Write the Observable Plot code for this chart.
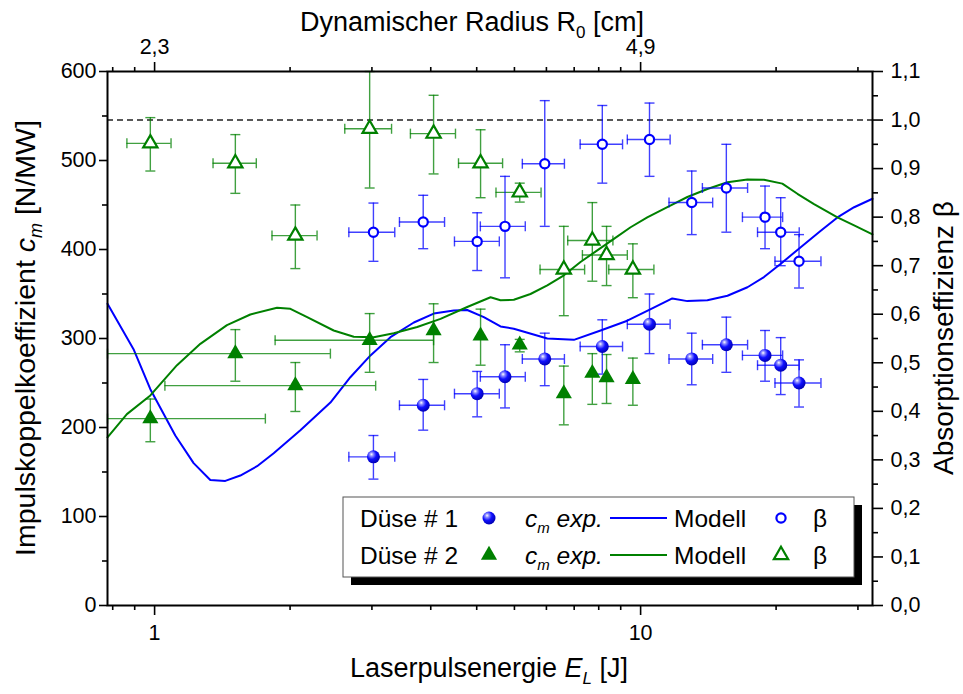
<!DOCTYPE html>
<html><head><meta charset="utf-8">
<script src="https://cdn.jsdelivr.net/npm/d3@7"></script>
<script src="https://cdn.jsdelivr.net/npm/@observablehq/plot@0.6"></script>
<style>
html,body{margin:0;padding:0;background:#fff;}
#chart{width:963px;height:694px;}
</style>
</head><body><div id="chart"></div>
<script>
// ---------- Düse # 1 (blue) ----------
const blueE    = [2.82, 3.57, 4.61, 5.26, 6.35, 8.34, 10.43, 12.74, 15.01, 18.03, 19.42, 21.18];
const blueElo  = [2.51, 3.19, 4.14, 4.68, 5.71, 7.51, 9.39, 11.44, 13.4, 16.2, 17.4, 18.9];
const blueEhi  = [3.12, 3.95, 5.12, 5.79, 6.97, 9.18, 11.5, 14.07, 16.6, 19.6, 21.2, 23.5];
const blueCm   = [167, 225, 238, 257, 277, 291, 316, 277, 293, 281, 270, 250];
const blueCmLo = [142, 197, 212, 222, 247, 260, 283, 248, 262, 252, 237, 223];
const blueCmHi = [191, 254, 263, 293, 306, 321, 350, 306, 324, 309, 301, 276];
const blueBeta   = [0.769, 0.790, 0.750, 0.781, 0.910, 0.950, 0.960, 0.830, 0.860, 0.800, 0.769, 0.709];
const blueBetaLo = [0.709, 0.735, 0.690, 0.675, 0.781, 0.870, 0.884, 0.764, 0.769, 0.735, 0.700, 0.654];
const blueBetaHi = [0.829, 0.845, 0.809, 0.884, 1.040, 1.030, 1.035, 0.895, 0.950, 0.864, 0.840, 0.764];

// ---------- Düse # 2 (green) ----------
const greenE    = [0.98, 1.466, 1.948, 2.77, 3.75, 4.685, 5.64, 6.95, 7.955, 8.51, 9.64];
const greenCm   = [210, 283, 247, 298, 309, 303, 293, 238, 261, 256, 254];
const greenCmLo = [184, 252, 218, 262, 273, 270, 285, 203, 226, 227, 225];
const greenCmHi = [232, 310, 273, 328, 339, 333, 299, 269, 283, 282, 278];
const greenCmElo = [0.8, 0.8, 1.05, 1.77, null, null, null, null, null, null, null];
const greenCmEhi = [1.69, 2.30, 2.85, 3.75, null, null, null, null, null, null, null];
const greenBeta   = [0.952, 0.911, 0.762, 0.982, 0.972, 0.911, 0.851, 0.692, 0.752, 0.722, 0.692];
const greenBetaLo = [0.895, 0.849, 0.694, 0.860, 0.889, 0.840, 0.831, 0.597, 0.668, 0.659, 0.634];
const greenBetaHi = [1.005, 0.970, 0.825, 1.100, 1.051, 0.980, 0.870, 0.781, 0.830, 0.781, 0.745];
const greenBetaElo = [0.877, 1.319, 1.744, 2.462, 3.36, 4.22, 5.04, 6.21, 7.08, 7.59, 8.6];
const greenBetaEhi = [1.081, 1.619, 2.159, 3.073, 4.16, 5.2, 6.24, 7.67, 8.77, 9.39, 10.65];

// ---------- Model curves ----------
const blueModelE  = [0.80,0.905,0.98,1.103,1.203,1.302,1.398,1.501,1.625,1.758,1.995,2.30,2.528,2.781,3.057,3.415,3.753,4.127,4.398,4.758,5.149,5.484,6.427,7.29,8.273,9.389,10.49,11.62,12.48,13.72,15.09,16.59,17.94,19.43,21.35,23.48,25.41,27.5,30.0];
const blueModelCm = [339,288,243,191,160,141,140,146,156.5,171,197,228,256.5,281,301.5,318,328,331.5,332,324,313.5,311,300,298.5,309,320,333,345,342,343,348,357.6,369,384,402.6,421,436,447.5,457];
const greenModelE  = [0.80,0.877,0.98,1.112,1.242,1.409,1.574,1.786,1.903,2.06,2.336,2.569,2.824,3.105,3.47,3.875,4.398,4.912,5.149,5.484,5.935,6.427,6.953,7.522,8.144,8.81,9.537,10.32,11.35,12.48,13.72,15.09,16.59,17.94,19.57,21.02,22.74,25.41,27.5,30.0];
const greenModelCm = [189,215,236,270,294,315,327,334.5,333.4,324,309,302,301.5,306,313,322,335.4,346.4,343,343.5,350,359.6,371,386,399,412,425,436,447.5,459,468,475.6,478.7,478.3,474,462.6,451,436,427,417];

// ---------- Axes ----------
const xDomain = [0.8, 30];
const xMajorTicks = [1, 10];
const xMinorTicks = [0.82, 0.91, 1.9, 2.8, 3.7, 4.6, 5.5, 6.4, 7.3, 8.2, 9.1, 19, 28];
const topTickLabels = ["2,3", "4,9"];
const cmDomain = [0, 600];
const cmMajorTicks = [0, 100, 200, 300, 400, 500, 600];
const cmMinorTicks = [50, 150, 250, 350, 450, 550];
const betaMax = 1.1;
const betaMajorTicks = [0, 0.1, 0.2, 0.3, 0.4, 0.5, 0.6, 0.7, 0.8, 0.9, 1.0, 1.1];
const betaMinorTicks = [0.05, 0.15, 0.25, 0.35, 0.45, 0.55, 0.65, 0.75, 0.85, 0.95, 1.05];
const betaReference = [1.0];

const BLUE = "#0000ff", GREEN = "#008000", SPHERE = "#0000fe";
const K = cmDomain[1] / betaMax; // beta -> left-axis units

const blueRows = blueE.map((E, i) => ({E, Elo: blueElo[i], Ehi: blueEhi[i],
  cm: blueCm[i], cmLo: blueCmLo[i], cmHi: blueCmHi[i],
  b: blueBeta[i] * K, bLo: blueBetaLo[i] * K, bHi: blueBetaHi[i] * K}));
const greenRows = greenE.map((E, i) => ({E, cElo: greenCmElo[i], cEhi: greenCmEhi[i],
  bElo: greenBetaElo[i], bEhi: greenBetaEhi[i],
  cm: greenCm[i], cmLo: greenCmLo[i], cmHi: greenCmHi[i],
  b: greenBeta[i] * K, bLo: greenBetaLo[i] * K, bHi: greenBetaHi[i] * K}));
const greenRowsCx = greenRows.filter(d => d.cElo != null);
const blueModel = blueModelE.map((E, i) => ({E, cm: blueModelCm[i]}));
const greenModel = greenModelE.map((E, i) => ({E, cm: greenModelCm[i]}));

const hCap = {draw(ctx, size) { const r = Math.sqrt(size / Math.PI); ctx.moveTo(-r, 0); ctx.lineTo(r, 0); }};
const vCap = {draw(ctx, size) { const r = Math.sqrt(size / Math.PI); ctx.moveTo(0, -r); ctx.lineTo(0, r); }};

function errorBars(rows, y, ylo, yhi, xlo, xhi, color) {
  const s = {stroke: color, strokeWidth: 1.4, strokeOpacity: 0.75};
  return [
    Plot.ruleX(rows, {x: "E", y1: ylo, y2: yhi, ...s}),
    Plot.dot(rows, {x: "E", y: ylo, symbol: hCap, r: 5, fill: "none", ...s}),
    Plot.dot(rows, {x: "E", y: yhi, symbol: hCap, r: 5, fill: "none", ...s}),
    Plot.ruleY(rows, {y, x1: xlo, x2: xhi, ...s}),
    Plot.dot(rows, {x: xlo, y, symbol: vCap, r: 5, fill: "none", ...s}),
    Plot.dot(rows, {x: xhi, y, symbol: vCap, r: 5, fill: "none", ...s})
  ];
}

const fmtBeta = d => (d / K).toFixed(1).replace(".", ",");
const axisStyle = {fontSize: 21.5, label: null, strokeWidth: 1.6};

const chart = Plot.plot({
  width: 963, height: 694,
  marginLeft: 107, marginRight: 91, marginTop: 71, marginBottom: 89,
  style: {fontFamily: '"Liberation Sans", Arial, sans-serif', fontSize: "21.5px", background: "white", color: "black"},
  x: {type: "log", domain: xDomain},
  y: {domain: cmDomain},
  marks: [
    Plot.ruleY(betaReference.map(b => b * K), {stroke: "#222", strokeWidth: 1.5, strokeDasharray: "6,4"}),
    Plot.line(blueModel, {x: "E", y: "cm", stroke: BLUE, strokeWidth: 2}),
    Plot.line(greenModel, {x: "E", y: "cm", stroke: GREEN, strokeWidth: 2}),
    ...errorBars(greenRowsCx, "cm", "cmLo", "cmHi", "cElo", "cEhi", GREEN).slice(3),
    ...errorBars(greenRows, "cm", "cmLo", "cmHi", "E", "E", GREEN).slice(0, 3),
    ...errorBars(greenRows, "b", "bLo", "bHi", "bElo", "bEhi", GREEN),
    ...errorBars(blueRows, "cm", "cmLo", "cmHi", "Elo", "Ehi", BLUE),
    ...errorBars(blueRows, "b", "bLo", "bHi", "Elo", "Ehi", BLUE),
    Plot.dot(greenRows, {x: "E", y: "cm", symbol: "triangle", r: 6, fill: GREEN}),
    Plot.dot(greenRows, {x: "E", y: "b", symbol: "triangle", r: 5.3, stroke: GREEN, strokeWidth: 2.2, fill: "white"}),
    Plot.dot(blueRows, {x: "E", y: "b", r: 4.6, stroke: BLUE, strokeWidth: 2.2, fill: "white"}),
    Plot.dot(blueRows, {x: "E", y: "cm", r: 6.5, fill: SPHERE}),
    Plot.axisX({anchor: "bottom", ticks: xMajorTicks, tickSize: 10, tickPadding: 9, tickFormat: d => String(d), ...axisStyle}),
    Plot.axisX({anchor: "bottom", ticks: xMinorTicks, tickSize: 5, tickFormat: () => "", ...axisStyle}),
    Plot.axisX({anchor: "top", ticks: xMajorTicks, tickSize: 10, tickPadding: 8, tickFormat: d => topTickLabels[xMajorTicks.indexOf(d)], ...axisStyle}),
    Plot.axisX({anchor: "top", ticks: xMinorTicks, tickSize: 5, tickFormat: () => "", ...axisStyle}),
    Plot.axisY({anchor: "left", ticks: cmMajorTicks, tickSize: 8, tickPadding: 3, tickFormat: d => String(d), ...axisStyle}),
    Plot.axisY({anchor: "left", ticks: cmMinorTicks, tickSize: 5, tickFormat: () => "", ...axisStyle}),
    Plot.axisY({anchor: "right", ticks: betaMajorTicks.map(b => b * K), tickSize: 10, tickPadding: 8, tickFormat: fmtBeta, ...axisStyle}),
    Plot.axisY({anchor: "right", ticks: betaMinorTicks.map(b => b * K), tickSize: 5, tickFormat: () => "", ...axisStyle}),
    Plot.frame({stroke: "black", strokeWidth: 2})
  ]
});
document.getElementById("chart").appendChild(chart);

// ---------- decorations: gradient, titles, legend ----------
const svg = d3.select(chart);
const defs = svg.insert("defs", ":first-child");
const g = defs.append("radialGradient").attr("id", "sph").attr("cx", "38%").attr("cy", "35%").attr("r", "65%").attr("fx", "35%").attr("fy", "30%");
g.append("stop").attr("offset", "0%").attr("stop-color", "#ffffff");
g.append("stop").attr("offset", "22%").attr("stop-color", "#8c8cff");
g.append("stop").attr("offset", "55%").attr("stop-color", "#1010ff");
g.append("stop").attr("offset", "100%").attr("stop-color", "#0000b4");
svg.selectAll("[fill]").filter(function() { return (this.getAttribute("fill") || "").toLowerCase() === SPHERE; })
  .attr("fill", "url(#sph)").selectAll("circle").attr("fill", "url(#sph)");

const FONT = '"Liberation Sans", Arial, sans-serif';
function richText(parent, x, y, parts, size, opts = {}) {
  const t = parent.append("text").attr("x", x).attr("y", y)
    .attr("font-family", FONT).attr("font-size", size).attr("fill", "black")
    .attr("text-anchor", opts.anchor || "start");
  if (opts.transform) t.attr("transform", opts.transform).attr("x", 0).attr("y", 0);
  let shift = 0;
  for (const p of parts) {
    const ts = t.append("tspan").text(p.text);
    if (p.italic) ts.attr("font-style", "italic");
    const target = p.sub ? Math.round(size * 0.25) : 0;
    if (target !== shift) { ts.attr("dy", target - shift); shift = target; }
    if (p.sub) ts.attr("font-size", Math.round(size * 0.62));
  }
  return t;
}
richText(svg, 472, 31, [{text: "Dynamischer Radius R"}, {text: "0", sub: true}, {text: " [cm]"}], 27, {anchor: "middle"});
richText(svg, 0, 0, [{text: "Laserpulsenergie "}, {text: "E", italic: true}, {text: "L", italic: true, sub: true}, {text: " [J]"}], 27, {anchor: "middle", transform: "translate(489,677)"});
richText(svg, 0, 0, [{text: "Impulskoppelkoeffizient "}, {text: "c", italic: true}, {text: "m", italic: true, sub: true}, {text: " [N/MW]"}], 28.5, {anchor: "middle", transform: "translate(35,338) rotate(-90)"});
richText(svg, 0, 0, [{text: "Absorptionseffizienz β"}], 28, {anchor: "middle", transform: "translate(953,338) rotate(-90)"});

// legend
const L = svg.append("g");
L.append("rect").attr("x", 351).attr("y", 505).attr("width", 511).attr("height", 80).attr("fill", "black");
L.append("rect").attr("x", 343).attr("y", 497).attr("width", 511).attr("height", 80).attr("fill", "white").attr("stroke", "#555").attr("stroke-width", 1);
const rows = [
  {label: "Düse # 1", color: BLUE, y: 518, base: 527, n: 1},
  {label: "Düse # 2", color: GREEN, y: 555, base: 564, n: 2}
];
const legSize = 24.5;
for (const r of rows) {
  richText(L, 360, r.base, [{text: r.label}], legSize);
  if (r.n === 1) {
    L.append("circle").attr("cx", 489).attr("cy", r.y).attr("r", 6.5).attr("fill", "url(#sph)");
    L.append("circle").attr("cx", 781).attr("cy", r.y).attr("r", 4.6).attr("fill", "white").attr("stroke", BLUE).attr("stroke-width", 2.2);
  } else {
    L.append("path").attr("transform", `translate(489,${r.y})`).attr("d", d3.symbol(d3.symbolTriangle, 6 * 6 * Math.PI)()).attr("fill", GREEN);
    L.append("path").attr("transform", `translate(781,${r.y})`).attr("d", d3.symbol(d3.symbolTriangle, 5.3 * 5.3 * Math.PI)()).attr("fill", "white").attr("stroke", GREEN).attr("stroke-width", 2.2);
  }
  richText(L, 525, r.base, [{text: "c", italic: true}, {text: "m", italic: true, sub: true}, {text: " exp.", italic: true}], legSize);
  L.append("line").attr("x1", 610).attr("x2", 667).attr("y1", r.y).attr("y2", r.y).attr("stroke", r.color).attr("stroke-width", 2);
  richText(L, 674, r.base, [{text: "Modell"}], legSize);
  richText(L, 813, r.base, [{text: "β"}], legSize);
}
</script></body></html>
